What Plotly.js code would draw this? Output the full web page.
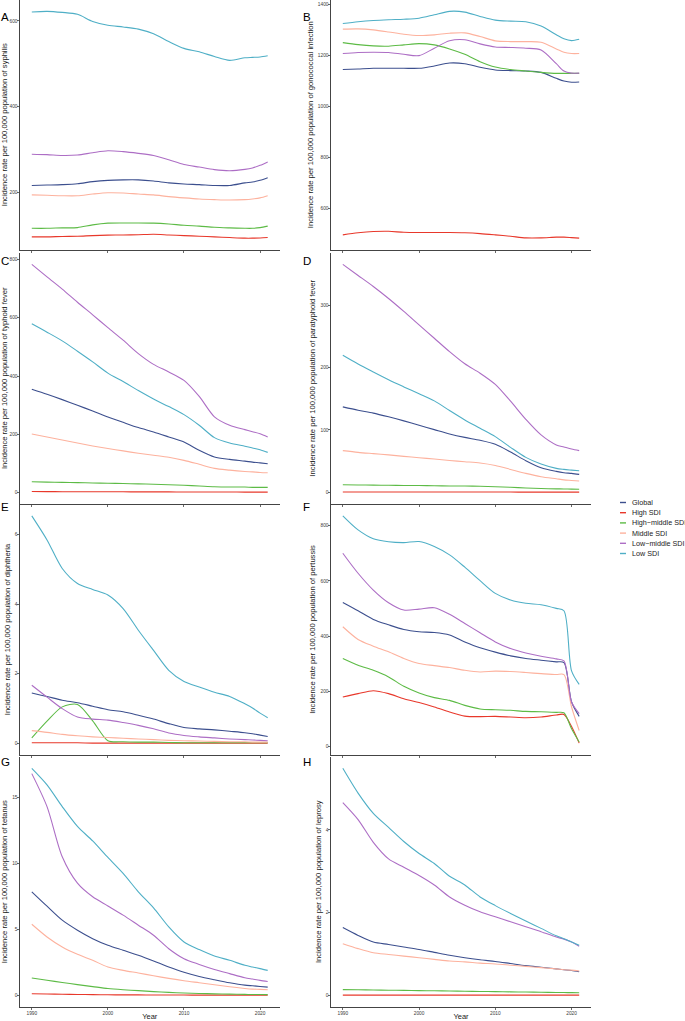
<!DOCTYPE html>
<html>
<head>
<meta charset="utf-8">
<script src="https://cdn.plot.ly/plotly-3.0.1.min.js"></script>
<style>
html,body{margin:0;padding:0;background:#ffffff;}
#chart{width:685px;height:1021px;}
</style>
</head>
<body>
<div id="chart"></div>
<script>
// ---------------- DATA ----------------
const years = [1990,1992,1994,1996,1998,2000,2002,2004,2006,2008,2010,2012,2014,2016,2018,2019,2020,2021];
const seriesNames = ['Global','High SDI','High\u2212middle SDI','Middle SDI','Low\u2212middle SDI','Low SDI'];
const panelLetters = ['A','B','C','D','E','F','G','H'];
const diseases = ['syphilis','gonococcal infection','typhoid fever','paratyphoid fever','diphtheria','pertussis','tetanus','leprosy'];
const xTickVals = [1990,2000,2010,2020];
const yTickSteps = [200,200,200,100,2,200,5,2];

// each disease: rows in order Global, High SDI, High-middle SDI, Middle SDI, Low-middle SDI, Low SDI
const syphilis = [
  [216,217,218,220,225,228,229,229,226.4,222,219.4,218,216,216,222,224,228,234],
  [96,96,97,97.5,99,100,100.5,101,102,100.5,99,97.5,96,94.4,93,93,93.5,94.4],
  [116,116,117,117.6,124,128,128.5,128.5,128,126,123,121,118.4,117,116,116,117.6,121],
  [194,193,192,192,196,199,198.5,196,194,190,187,184.5,183,182,183,184.5,187,192],
  [289,288,286,287,292.5,297,295,291,286,276,265,259,253,250.5,253.6,257,263,271],
  [621,622.5,620,615.5,599,590,586,581,570,552,536,528,517,508,514,515,516,519]
];
const gonococcal = [
  [1145,1147.4,1150,1150,1150,1150,1159,1171,1168,1154,1143.4,1141,1139.5,1134,1110.5,1100,1095,1096],
  [495,503,508,509,505,504,504,504,503,500,495,489.5,483,483,486,486,484,482],
  [1251,1243,1238,1237,1242,1247,1242,1226,1205,1176,1155,1145,1139.5,1134,1130,1130,1130,1130],
  [1304,1305,1301,1293,1284,1279,1281.6,1288,1289.5,1275,1258,1255,1255,1252.6,1226,1213,1208,1208],
  [1208,1212,1213,1212,1205,1200,1229,1258,1262,1246,1234,1232,1229,1222,1168,1139,1131,1131],
  [1326,1333,1338,1341,1343,1347,1360.5,1374,1371,1354,1339.5,1335.5,1333,1316,1281.6,1266,1259,1264]
];
const typhoid = [
  [354.5,337.4,319,299.6,280,259.5,241,223,208,191,173.6,145,122,114,108,104.6,102,99],
  [3.5,3.3,3.1,3.0,2.9,2.8,2.6,2.5,2.4,2.3,2.2,2.0,1.9,1.8,1.7,1.7,1.6,1.6],
  [37,36,35,34,33,32,31,30,28.5,27,25,22.5,20,19,19,18,18,18],
  [201,191,180.5,170,160,151,143,135,128,121,110.6,97,83,77,72.5,71,69,68],
  [783,740,698,653,610,566,523,477,440,414,385,330,260,231,216,209,202,191],
  [579,550.4,520.6,485,448.5,410,381,350,321,295,267.5,231,188.5,170,159,153,147,138]
];
const paratyphoid = [
  [137,131.6,127,121,114.5,107.5,100.5,93.6,88,83.4,77,64.6,50.7,39.4,33.5,31.4,30.3,28.7],
  [0.6,0.6,0.6,0.5,0.5,0.5,0.5,0.5,0.4,0.4,0.4,0.4,0.3,0.3,0.3,0.3,0.3,0.3],
  [12,11.8,11.5,11.2,11,10.8,10.5,10.2,10,9.6,9,8,7,6,5.5,5.3,5.1,5],
  [66.8,64,62,60,57.6,55.5,53.4,51,49,47,43,36.7,30.3,25,21.7,20,19,18],
  [365.4,347.7,330,310.7,290,268.4,247,225.5,206,191,173,146,117,92,76,72.7,69.4,66.8],
  [219.6,205.6,192.8,180.4,169,158,146.6,131,116,102.7,89.3,72,56,45.3,38.3,36.7,35.6,34.5]
];
const diphtheria = [
  [1.45,1.35,1.24,1.17,1.07,0.97,0.91,0.81,0.70,0.57,0.46,0.42,0.39,0.35,0.31,0.28,0.24,0.20],
  [0.02,0.02,0.02,0.02,0.01,0.01,0.01,0.01,0.01,0.01,0.01,0.01,0.01,0.01,0.01,0.01,0.01,0.01],
  [0.16,0.64,1.05,1.12,0.65,0.08,0.05,0.04,0.04,0.03,0.02,0.02,0.02,0.02,0.02,0.02,0.02,0.02],
  [0.37,0.32,0.26,0.22,0.19,0.17,0.15,0.13,0.11,0.09,0.08,0.07,0.06,0.05,0.05,0.04,0.04,0.04],
  [1.67,1.33,1.00,0.76,0.70,0.67,0.60,0.52,0.42,0.30,0.23,0.19,0.16,0.13,0.11,0.10,0.09,0.08],
  [6.53,5.84,5.02,4.59,4.42,4.26,3.87,3.25,2.67,2.10,1.78,1.62,1.47,1.35,1.14,1.02,0.87,0.74]
];
const pertussis = [
  [522,492,460.6,441,424,416,413,404,379,357.6,342,328.5,319,312.7,306.7,304,161,109],
  [179,191.5,202,191.5,173,159,143,125,110,108,109,106.7,104,106.7,114,116,72,12],
  [319,294.5,276,252,218,194,177,167,149,136,133,131,127,126,123.6,122,64,16],
  [434,388,363.6,343,318.8,300.6,293,286,276,270,273,271.5,268,264,260.6,260.6,143,58],
  [700.6,628,567,521,494.5,498,503,479,446,412,379,355,339,327,317.6,310,161,119],
  [836,785,753,742,739,743,725,694.5,650,601,555,531,519,514,500.6,492,274,225]
];
const tetanus = [
  [7.85,6.76,5.7,4.94,4.3,3.8,3.42,3.04,2.61,2.15,1.75,1.44,1.19,0.96,0.78,0.73,0.68,0.63],
  [0.13,0.11,0.09,0.07,0.06,0.05,0.04,0.04,0.03,0.03,0.03,0.02,0.02,0.02,0.02,0.02,0.02,0.02],
  [1.32,1.15,0.98,0.82,0.67,0.52,0.43,0.36,0.29,0.23,0.18,0.15,0.12,0.1,0.08,0.07,0.07,0.06],
  [5.39,4.43,3.67,3.11,2.66,2.15,1.9,1.7,1.49,1.29,1.11,0.96,0.81,0.66,0.53,0.48,0.46,0.43],
  [16.8,14.3,10.5,8.5,7.47,6.78,6.08,5.32,4.56,3.54,2.78,2.35,1.97,1.65,1.34,1.24,1.14,1.06],
  [17.2,15.95,14.3,12.8,11.7,10.45,9.24,7.85,6.63,5.19,4.05,3.47,2.99,2.66,2.28,2.15,2.03,1.9]
];
const leprosy = [
  [1.64,1.45,1.29,1.23,1.17,1.11,1.04,0.97,0.91,0.86,0.82,0.77,0.72,0.68,0.64,0.62,0.6,0.57],
  [0.005,0.005,0.005,0.005,0.005,0.005,0.005,0.005,0.005,0.005,0.005,0.005,0.005,0.005,0.005,0.005,0.005,0.005],
  [0.14,0.135,0.13,0.125,0.12,0.115,0.11,0.105,0.1,0.095,0.09,0.085,0.08,0.075,0.07,0.068,0.066,0.065],
  [1.25,1.13,1.03,0.99,0.95,0.91,0.87,0.83,0.81,0.78,0.76,0.73,0.70,0.67,0.64,0.62,0.61,0.59],
  [4.66,4.25,3.7,3.3,3.1,2.9,2.67,2.38,2.18,2.02,1.9,1.78,1.66,1.54,1.41,1.36,1.29,1.19],
  [5.49,4.89,4.4,4.06,3.72,3.43,3.19,2.88,2.67,2.38,2.17,1.98,1.8,1.62,1.44,1.37,1.29,1.21]
];
const panelData = [syphilis, gonococcal, typhoid, paratyphoid, diphtheria, pertussis, tetanus, leprosy];

// ---------------- STYLE / LAYOUT ----------------
const seriesColors = ['#3C4F8E','#E8382B','#5DBB46','#FDB29E','#AD6EC5','#4FAFC6'];
const W = 685, H = 1021;
const FONT = 'Liberation Sans, Arial, Helvetica, sans-serif';
const colPx = [[20, 279.5], [331, 591]];
const rowPx = [[0, 249.5], [253, 503.5], [504.5, 754.5], [757, 1006.5]];
const letterTopPx = [10, 254.5, 500, 755];
const letterLeftPx = [0, 302];
const xRange = [1988.45, 2022.55];
const legendX0 = 620, legendX1 = 626, legendTextX = 630, legendY0 = 502.5, legendStep = 10.2;

const traces = [];
const layout = {
  width: W, height: H,
  margin: {l: 0, r: 0, t: 0, b: 0},
  paper_bgcolor: '#ffffff', plot_bgcolor: '#ffffff',
  showlegend: false,
  font: {family: FONT, color: '#1a1a1a'},
  annotations: [], shapes: []
};

panelData.forEach((rows, p) => {
  const row = Math.floor(p / 2), col = p % 2;
  const xid = 'x' + (p + 1), yid = 'y' + (p + 1);
  let lo = Infinity, hi = -Infinity;
  rows.forEach((vals, s) => {
    vals.forEach(v => { lo = Math.min(lo, v); hi = Math.max(hi, v); });
    traces.push({
      type: 'scatter', mode: 'lines', x: years, y: vals,
      name: seriesNames[s], xaxis: xid, yaxis: yid,
      line: {color: seriesColors[s], width: 1.1, shape: 'spline', smoothing: 0.8},
      hoverinfo: 'skip'
    });
  });
  const pad = (hi - lo) * 0.05;
  const xa = {
    domain: [colPx[col][0] / W, colPx[col][1] / W],
    anchor: yid, range: xRange, tickmode: 'array', tickvals: xTickVals,
    showline: true, linecolor: '#444', linewidth: 1,
    ticks: 'outside', ticklen: 2.5, tickwidth: 0.8, tickcolor: '#444',
    showgrid: false, zeroline: false,
    showticklabels: row === 3, ticklabelstandoff: -1,
    tickfont: {size: 4.8, color: '#3a3a3a', family: FONT}
  };
  if (row === 3) xa.title = {text: 'Year', font: {size: 7.5, color: '#1a1a1a', family: FONT}, standoff: 1};
  const ya = {
    domain: [1 - rowPx[row][1] / H, 1 - rowPx[row][0] / H],
    anchor: xid, range: [lo - pad, hi + pad], dtick: yTickSteps[p], tick0: 0,
    showline: true, linecolor: '#444', linewidth: 1,
    ticks: 'outside', ticklen: 2.5, tickwidth: 0.8, tickcolor: '#444',
    showgrid: false, zeroline: false, ticklabelstandoff: -2,
    tickfont: {size: 4.8, color: '#3a3a3a', family: FONT},
    title: {text: 'Incidence rate per 100,000 population of ' + diseases[p],
            font: {size: 7.6, color: '#1a1a1a', family: FONT}, standoff: 3}
  };
  layout['xaxis' + (p + 1)] = xa;
  layout['yaxis' + (p + 1)] = ya;
  layout.annotations.push({
    text: panelLetters[p], xref: 'paper', yref: 'paper',
    x: letterLeftPx[col] / W, y: 1 - letterTopPx[row] / H,
    xanchor: 'left', yanchor: 'top', showarrow: false, borderpad: 0,
    font: {size: 11.5, color: '#000', family: FONT}
  });
});

// legend (drawn as text + short line keys)
seriesNames.forEach((nm, s) => {
  const yPx = legendY0 + s * legendStep;
  layout.shapes.push({
    type: 'line', xref: 'paper', yref: 'paper',
    x0: legendX0 / W, x1: legendX1 / W, y0: 1 - yPx / H, y1: 1 - yPx / H,
    line: {color: seriesColors[s], width: 1.4}
  });
  layout.annotations.push({
    text: nm, xref: 'paper', yref: 'paper', x: legendTextX / W, y: 1 - yPx / H,
    xanchor: 'left', yanchor: 'middle', showarrow: false,
    font: {size: 7.2, color: '#1a1a1a', family: FONT}
  });
});

Plotly.newPlot('chart', traces, layout, {staticPlot: true, displayModeBar: false});
</script>
</body>
</html>
